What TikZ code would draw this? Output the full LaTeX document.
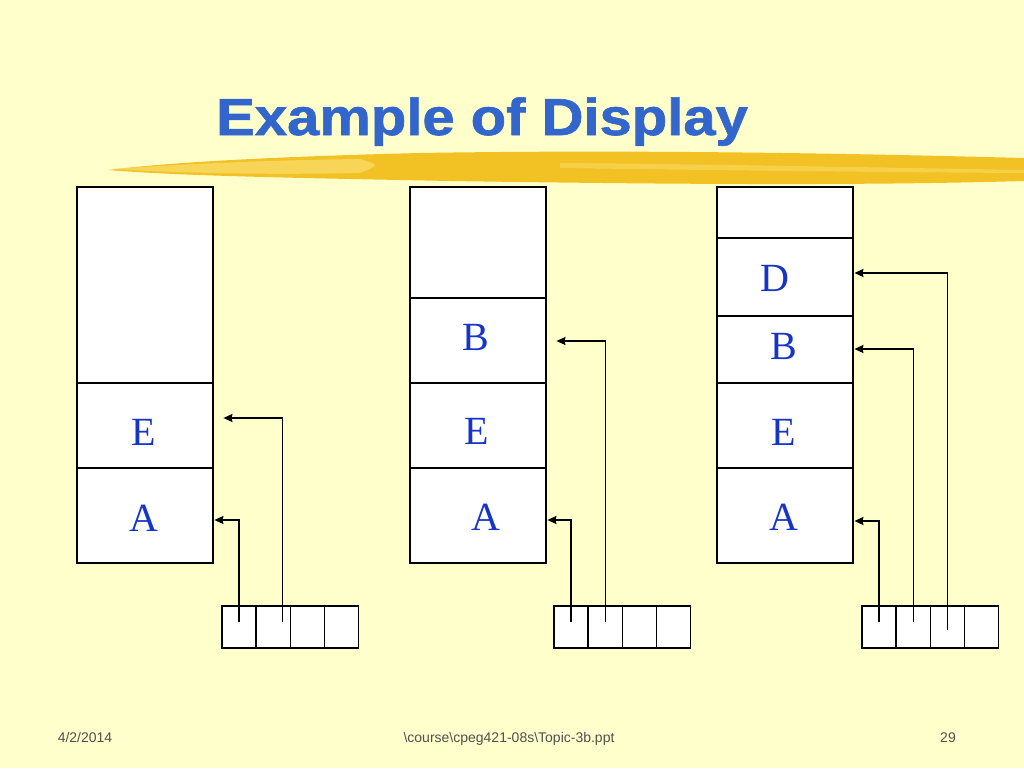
\documentclass[tikz,border=0pt]{standalone}
\usepackage{fontspec}
\setmainfont{Liberation Serif}
\newfontfamily\arialfont{Liberation Sans}
\newfontfamily\titlefont[FakeBold=1.2]{Liberation Sans Bold}
\usetikzlibrary{arrows.meta,positioning}
\definecolor{slidebg}{RGB}{255,255,204}
\definecolor{titleblue}{RGB}{51,102,204}
\definecolor{letterblue}{RGB}{22,52,200}
\definecolor{brushgold}{RGB}{242,194,36}
\definecolor{brushlight}{RGB}{250,222,110}
\definecolor{footgray}{RGB}{80,80,80}

\begin{document}
\begin{tikzpicture}[x=1pt,y=-1pt,>={Stealth[length=9pt,width=8pt,inset=1pt]},shorten >=0.5mm, node distance=0]
  \tikzstyle{slot} = [draw, rectangle, fill=white, line width=1.4pt, minimum width=136, inner sep=0, outer sep=0]
  \tikzstyle{cell} = [draw, rectangle, fill=white, line width=1.4pt, minimum width=34.2, minimum height=42, inner sep=0]
  \tikzstyle{letter} = [text=letterblue, font=\fontsize{40}{40}\selectfont, inner sep=0]
  \tikzstyle{link} = [->, line width=1.4pt]
  \tikzstyle{footer} = [text=footgray, font=\arialfont\fontsize{14}{14}\selectfont, anchor=base]
  \useasboundingbox (0,0) rectangle (1024,768);
  \fill[slidebg] (0,0) rectangle (1024,768);
  % brush under the title
  \fill[brushgold] (108,170) .. controls (180,161) and (300,156) .. (420,153)
    .. controls (600,150) and (800,152) .. (1024,158) -- (1024,181)
    .. controls (850,186) and (650,184) .. (450,181)
    .. controls (300,178) and (180,176) .. (108,170) -- cycle;
  \fill[brushlight, opacity=0.7] (112,169) .. controls (200,163) and (280,160) .. (360,159)
    .. controls (380,165) .. (360,173) .. controls (260,175) and (180,173) .. (112,169) -- cycle;
  \fill[brushlight, opacity=0.5] (560,163) .. controls (700,164) and (850,167) .. (1024,170)
    -- (1024,173) .. controls (850,172) and (700,170) .. (560,168) -- cycle;
  \node[anchor=base west, text=titleblue, font=\titlefont\fontsize{52}{52}\selectfont, inner sep=0] (title) at (216,135) {\scalebox{1.115}[1]{Example of Display}};

  % first stack
  \node[slot, minimum height=196] (s1top) at (145,285) {};
  \node[slot, minimum height=85, below=of s1top] (s1e) {};
  \node[slot, minimum height=95, below=of s1e] (s1a) {};
  \node[letter] (l1e) at (144,432) {E};
  \node[letter] (l1a) at (144,518) {A};
  \foreach \i in {0,...,3}
    \node[cell] (d1\i) at ({239+34.2*\i},627) {};
  \coordinate (t1a) at (213,520);
  \coordinate (t1e) at (222,418);
  \draw[link] ([yshift=5]d10.center) |- (t1a);
  \draw[link] ([xshift=9,yshift=5]d11.center) |- (t1e);

  % second stack
  \node[slot, minimum height=111] (s2top) at (478,242.5) {};
  \node[slot, minimum height=85, below=of s2top] (s2b) {};
  \node[slot, minimum height=85, below=of s2b] (s2e) {};
  \node[slot, minimum height=95, below=of s2e] (s2a) {};
  \node[letter] (l2b) at (476,337.5) {B};
  \node[letter] (l2e) at (477,431.5) {E};
  \node[letter] (l2a) at (485.5,517) {A};
  \foreach \i in {0,...,3}
    \node[cell] (d2\i) at ({571+34.2*\i},627) {};
  \coordinate (t2a) at (546,520);
  \coordinate (t2b) at (555,341);
  \draw[link] ([yshift=5]d20.center) |- (t2a);
  \draw[link] ([yshift=5]d21.center) |- (t2b);

  % third stack
  \node[slot, minimum height=51] (s3top) at (785,212.5) {};
  \node[slot, minimum height=78, below=of s3top] (s3d) {};
  \node[slot, minimum height=67, below=of s3d] (s3b) {};
  \node[slot, minimum height=85, below=of s3b] (s3e) {};
  \node[slot, minimum height=95, below=of s3e] (s3a) {};
  \node[letter] (l3d) at (775,278) {D};
  \node[letter] (l3b) at (783.5,346) {B};
  \node[letter] (l3e) at (783.5,432) {E};
  \node[letter] (l3a) at (783.5,517) {A};
  \foreach \i in {0,...,3}
    \node[cell] (d3\i) at ({879+34.2*\i},627) {};
  \coordinate (t3a) at (853,521);
  \coordinate (t3b) at (853,349);
  \coordinate (t3d) at (853,273);
  \draw[link] ([yshift=5]d30.center) |- (t3a);
  \draw[link] ([yshift=5]d31.center) |- (t3b);
  \draw[link] ([yshift=-3]d32.center) |- (t3d);

  % footer
  \node[footer] (date) at (85,742) {4/2/2014};
  \node[footer] (file) at (509,742) {\textbackslash course\textbackslash cpeg421-08s\textbackslash Topic-3b.ppt};
  \node[footer] (page) at (948,742) {29};
\end{tikzpicture}
\end{document}
